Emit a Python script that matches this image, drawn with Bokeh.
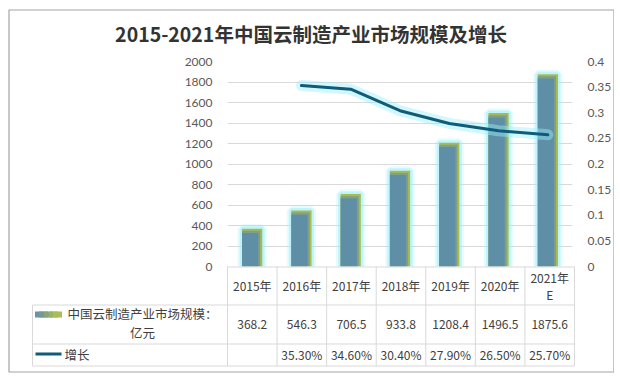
from bokeh.plotting import figure
from bokeh.models import (Range1d, FactorRange, LinearAxis, SingleIntervalTicker,
                          CustomJSTickFormatter, ColumnDataSource)
from bokeh.layouts import column
from bokeh.transform import dodge
from bokeh.core.properties import value
from bokeh.embed import file_html
from bokeh.resources import INLINE

# ---------------- data ----------------
years = ["2015年", "2016年", "2017年", "2018年", "2019年", "2020年", "2021年E"]
header_labels = ["2015年", "2016年", "2017年", "2018年", "2019年", "2020年", "2021年\nE"]
market_size = [368.2, 546.3, 706.5, 933.8, 1208.4, 1496.5, 1875.6]
growth_years = ["2016年", "2017年", "2018年", "2019年", "2020年", "2021年E"]
growth = [0.353, 0.346, 0.304, 0.279, 0.265, 0.257]
series_names = ["中国云制造产业市场规模：\n亿元", "增长"]
title_text = "2015-2021年中国云制造产业市场规模及增长"

CJK = "Noto Sans CJK SC"
AXIS_FONT = "Lato"
GRID = "#d9d9d9"
TXT = "#404040"
LINE_C = "#0f5c7a"
GLOW = "#9cf0fa"
BLUE = "#5f8fa6"
MID = "#7f9f8a"
GREEN = "#a6bc52"

W = 614
H = 374
LEFT = 227      # plot-area left edge
RIGHT = 40      # space right of plot area
TOP = 61        # plot-area top edge
BOTTOM = 108    # space below plot area (data table)

# ---------------- chart ----------------
p1 = figure(width=W, height=H, x_range=FactorRange(factors=years),
            y_range=Range1d(0, 2000), output_backend="svg", toolbar_location=None,
            x_axis_location=None, min_border_left=LEFT, min_border_right=RIGHT,
            min_border_top=TOP, min_border_bottom=BOTTOM)
p1.frame_align = False
p1.outline_line_color = None
p1.xgrid.visible = False
lt = SingleIntervalTicker(interval=200, num_minor_ticks=0)
p1.yaxis[0].ticker = lt
p1.ygrid[0].ticker = lt
p1.ygrid.grid_line_color = GRID

p1.extra_y_ranges = {"pct": Range1d(0, 0.4)}
rax = LinearAxis(y_range_name="pct",
                 ticker=SingleIntervalTicker(interval=0.05, num_minor_ticks=0),
                 formatter=CustomJSTickFormatter(code="return String(Math.round(tick*100)/100);"))
p1.add_layout(rax, "right")
for ax in p1.yaxis:
    ax.axis_line_color = None
    ax.major_tick_line_color = None
    ax.minor_tick_line_color = None
    ax.major_label_text_color = "#595959"
    ax.major_label_text_font = AXIS_FONT
    ax.major_label_text_font_size = "12px"
    ax.major_label_standoff = 9

src = ColumnDataSource(dict(x=years, top=market_size,
                            top2=[v - 20 for v in market_size],
                            top3=[v - 42 for v in market_size]))
# glow
p1.vbar(x="x", top="top", width=0.41, source=src, fill_color=None,
        line_color=GLOW, line_width=9, line_alpha=0.25)
p1.vbar(x="x", top="top", width=0.41, source=src, fill_color=None,
        line_color=GLOW, line_width=5, line_alpha=0.55)
# gradient-like body
p1.vbar(x="x", top="top", width=0.41, source=src, fill_color=GREEN, line_color=None)
p1.vbar(x=dodge("x", -0.02, range=p1.x_range), top="top2", width=0.37, source=src,
        fill_color=MID, line_color=None)
p1.vbar(x=dodge("x", -0.04, range=p1.x_range), top="top3", width=0.33, source=src,
        fill_color=BLUE, line_color=None)

# growth line
p1.line(growth_years, growth, y_range_name="pct", line_color=GLOW, line_width=11,
        line_alpha=0.45, line_join="round", line_cap="round")
p1.line(growth_years, growth, y_range_name="pct", line_color=LINE_C, line_width=3,
        line_join="round", line_cap="round")

# ---------------- title, border and data table (transparent overlay) ----------------
cw = (W - LEFT - RIGHT) / len(years)
x0 = -0.5 - LEFT / cw
x1 = len(years) - 0.5 + RIGHT / cw


def px(v):
    return x0 + v / cw


p2 = figure(width=W, height=H, x_range=Range1d(x0, x1), y_range=Range1d(H, 0),
            output_backend="svg", toolbar_location=None, x_axis_location=None,
            y_axis_location=None, min_border=0)
p2.frame_align = False
p2.background_fill_color = None
p2.border_fill_color = None
p2.outline_line_color = None
p2.grid.visible = False
p2.styles = {"margin-top": f"-{H}px"}

# chart border
p2.quad(left=[px(8.5)], right=[px(613.5)], top=[9.5], bottom=[371.5],
        fill_color=None, line_color="#a3a3a3", line_width=1.2)

# title
p2.text([px(310.5)], [33], text=[title_text], text_align="center", text_baseline="middle",
        text_font=value(CJK), text_font_size="19.5px", text_font_style="bold",
        text_color="#333333")

idx = list(range(len(years)))
n = len(years)
tl = px(32)
T0 = H - BOTTOM
rows = [T0 + 0.5, T0 + 38.5, T0 + 77.5, T0 + 99.5]
xs, ys = [], []
xs.append([-0.5, n - 0.5]); ys.append([rows[0], rows[0]])
for r in rows[1:]:
    xs.append([tl, n - 0.5]); ys.append([r, r])
for k in range(n + 1):
    xs.append([k - 0.5, k - 0.5]); ys.append([T0, rows[-1]])
xs.append([tl, tl]); ys.append([rows[1], rows[-1]])
p2.multi_line(xs, ys, line_color=GRID, line_width=1)

p2.text(idx, [T0 + 19] * n, text=header_labels, text_align="center", text_baseline="middle",
        text_font=value(CJK), text_font_size="12px", text_color=TXT, text_line_height=1.0)
p2.text(idx, [T0 + 57.5] * n, text=[f"{v:.1f}" for v in market_size], text_align="center",
        text_baseline="middle", text_font=value(CJK), text_font_size="12px", text_color=TXT)
gi = [years.index(y) for y in growth_years]
p2.text(gi, [T0 + 88] * len(gi), text=[f"{g*100:.2f}%" for g in growth], text_align="center",
        text_baseline="middle", text_font=value(CJK), text_font_size="12px", text_color=TXT)

# legend entries
sw_x = [39, 43, 48, 53, 57]
sw_c = ["#6a93a3", "#76998f", "#86a67a", "#98b366", "#a9be55"]
p2.rect([px(v) for v in sw_x], [T0 + 48] * len(sw_x), width=[9 / cw] * len(sw_x), height=6,
        fill_color=sw_c, line_color=None)
p2.text([px(142)], [T0 + 56.5], text=[series_names[0]], text_align="center",
        text_baseline="middle", text_font=value(CJK), text_font_size="12.5px",
        text_color=TXT, text_line_height=1.0)
p2.line([px(35), px(61)], [T0 + 87.5, T0 + 87.5], line_color=LINE_C, line_width=3)
p2.text([px(64)], [T0 + 88], text=[series_names[1]], text_align="left", text_baseline="middle",
        text_font=value(CJK), text_font_size="12.5px", text_color=TXT)

layout = column(p1, p2, spacing=0)

open("out.html", "w").write(file_html(layout, INLINE))
